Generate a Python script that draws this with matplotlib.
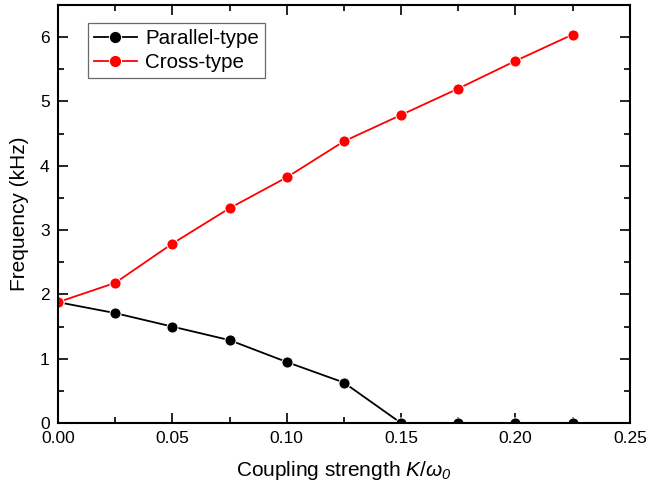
import matplotlib
matplotlib.use("Agg")
import matplotlib.pyplot as plt
from matplotlib.ticker import MultipleLocator, FormatStrFormatter

plt.rcParams['font.family'] = ['Liberation Sans', 'DejaVu Sans']
plt.rcParams['mathtext.fontset'] = 'custom'
plt.rcParams['mathtext.rm'] = 'Liberation Sans'
plt.rcParams['mathtext.it'] = 'Liberation Sans:italic'
plt.rcParams['mathtext.sf'] = 'Liberation Sans:italic'

coupling = [0.0, 0.025, 0.05, 0.075, 0.1, 0.125, 0.15, 0.175, 0.2, 0.225]
parallel_freq = [1.88, 1.71, 1.50, 1.29, 0.95, 0.63, 0.0, 0.0, 0.0, 0.0]
cross_freq = [1.88, 2.18, 2.79, 3.34, 3.82, 4.38, 4.79, 5.20, 5.63, 6.04]

fig = plt.figure(figsize=(6.48, 4.92), dpi=100)
ax = fig.add_axes([0.0895, 0.140, 0.8825, 0.850])

style = dict(marker='o', markersize=8, linewidth=1.3,
             markeredgecolor='white', markeredgewidth=0.7)
ax.plot(coupling, parallel_freq, color='black', markerfacecolor='black',
        label='Parallel-type', **style)
ax.plot(coupling, cross_freq, color='#ff0000', markerfacecolor='#ff0000',
        label='Cross-type', **style)

ax.set_xlim(0, 0.25)
ax.set_ylim(0, 6.5)
ax.xaxis.set_major_locator(MultipleLocator(0.05))
ax.xaxis.set_minor_locator(MultipleLocator(0.025))
ax.yaxis.set_major_locator(MultipleLocator(1))
ax.yaxis.set_minor_locator(MultipleLocator(0.5))
ax.xaxis.set_major_formatter(FormatStrFormatter('%.2f'))

ax.tick_params(which='both', direction='in', top=True, right=True,
               labelsize=12.5, width=1.2, pad=6)
ax.tick_params(which='major', length=7)
ax.tick_params(which='minor', length=4.5)
for s in ax.spines.values():
    s.set_linewidth(1.5)

ax.set_xlabel(r'Coupling strength $K/\omega_{\mathsf{0}}$', fontsize=15, labelpad=9)
ax.set_ylabel('Frequency (kHz)', fontsize=15, labelpad=8)

leg = ax.legend(loc='upper left', bbox_to_anchor=(0.052, 0.957), fontsize=14.8,
                frameon=True, fancybox=False, borderpad=0.3, labelspacing=0.25,
                handlelength=2.1, handletextpad=0.4, borderaxespad=0,
                markerscale=1.1)
leg.get_frame().set_edgecolor('#444444')
leg.get_frame().set_linewidth(0.9)

fig.savefig('out.png', dpi=100)
